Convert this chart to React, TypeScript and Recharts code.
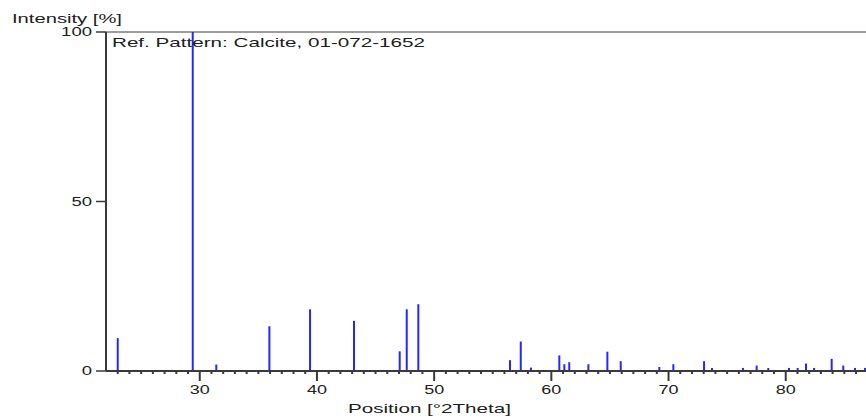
import React from 'react'
import { ComposedChart, Bar, XAxis, YAxis, ReferenceLine } from 'recharts'

// peak positions [°2Theta] and relative intensities [%]
const peakPositions = [
  23.04, 29.44, 31.45, 35.98, 39.45, 43.2, 47.1, 47.7, 48.69, 56.51, 57.43,
  58.3, 60.72, 61.15, 61.57, 63.2, 64.82, 65.96, 69.25, 70.45, 73.07, 73.75,
  76.39, 77.56, 78.55, 80.32, 81.06, 81.77, 82.46, 83.96, 84.95, 85.95, 86.8
]
const peakIntensities = [
  9.7, 100, 1.9, 13.2, 18.2, 14.8, 5.8, 18.2, 19.7, 3.2, 8.7,
  1.0, 4.6, 2.0, 2.6, 2.0, 5.7, 2.9, 1.2, 2.0, 2.9, 0.9,
  0.9, 1.6, 0.9, 0.9, 0.9, 2.2, 0.9, 3.6, 1.6, 0.9, 0.9
]
const xMajorTicks = [30, 40, 50, 60, 70, 80]
const xTicks = Array.from({ length: 64 }, (_, i) => 23 + i)
const yTicks = [0, 50, 100]

const data = peakPositions.map((pos, i) => ({ pos, intensity: peakIntensities[i] }))

const AXIS = '#3a3a3a'
const TEXT = '#202020'
const FONT = 'Liberation Sans, Arial, sans-serif'

const XTick = (props: any) => {
  const { x, y, payload } = props
  const major = xMajorTicks.includes(payload.value)
  return (
    <g>
      <line x1={x} x2={x} y1={y} y2={y + (major ? 10 : 3)} stroke={AXIS} strokeWidth={2} />
      {major && (
        <text
          x={x - 10}
          y={y + 23}
          fontSize={12}
          fill={TEXT}
          fontFamily={FONT}
          textLength={20}
          lengthAdjust="spacingAndGlyphs"
        >
          {payload.value}
        </text>
      )}
    </g>
  )
}

const YTick = (props: any) => {
  const { x, y, payload } = props
  const label = String(payload.value)
  const w = label.length * 10.3
  return (
    <g>
      <line x1={x} x2={x - 10} y1={y} y2={y} stroke={AXIS} strokeWidth={1.5} />
      <text
        x={x - 14 - w}
        y={y + 4}
        fontSize={12}
        fill={TEXT}
        fontFamily={FONT}
        textLength={w}
        lengthAdjust="spacingAndGlyphs"
      >
        {label}
      </text>
    </g>
  )
}

const stretched = (x: number, y: number, w: number, str: string, size = 13) => (
  <text
    x={x}
    y={y}
    fontSize={size}
    fill={TEXT}
    fontFamily={FONT}
    textLength={w}
    lengthAdjust="spacingAndGlyphs"
  >
    {str}
  </text>
)

export default function App() {
  return (
    <div style={{ position: 'absolute', left: 0, top: 0, width: 866, height: 418, overflow: 'hidden', background: '#fff' }}>
      <ComposedChart
        width={866}
        height={418}
        data={data}
        margin={{ top: 32, right: 0, left: 6, bottom: 0 }}
      >
        <XAxis
          dataKey="pos"
          type="number"
          domain={[22, 86.85]}
          allowDataOverflow
          ticks={xTicks}
          interval={0}
          tickSize={0}
          tickMargin={0}
          tickLine={false}
          tick={XTick}
          height={47}
          axisLine={{ stroke: AXIS, strokeWidth: 2 }}
          label={() => stretched(348, 413, 163, 'Position [°2Theta]', 13.5)}
        />
        <YAxis
          type="number"
          domain={[0, 100]}
          ticks={yTicks}
          interval={0}
          width={100}
          tickSize={0}
          tickMargin={0}
          tickLine={false}
          tick={YTick}
          axisLine={{ stroke: AXIS, strokeWidth: 2 }}
          label={() => stretched(12, 22.5, 110, 'Intensity [%]', 13.5)}
        />
        <ReferenceLine
          y={100}
          stroke={AXIS}
          strokeWidth={1}
          label={() => stretched(112, 46.5, 313, 'Ref. Pattern: Calcite, 01-072-1652', 13.5)}
        />
        <Bar dataKey="intensity" fill="#2626ff" barSize={2} isAnimationActive={false} />
      </ComposedChart>
    </div>
  )
}
